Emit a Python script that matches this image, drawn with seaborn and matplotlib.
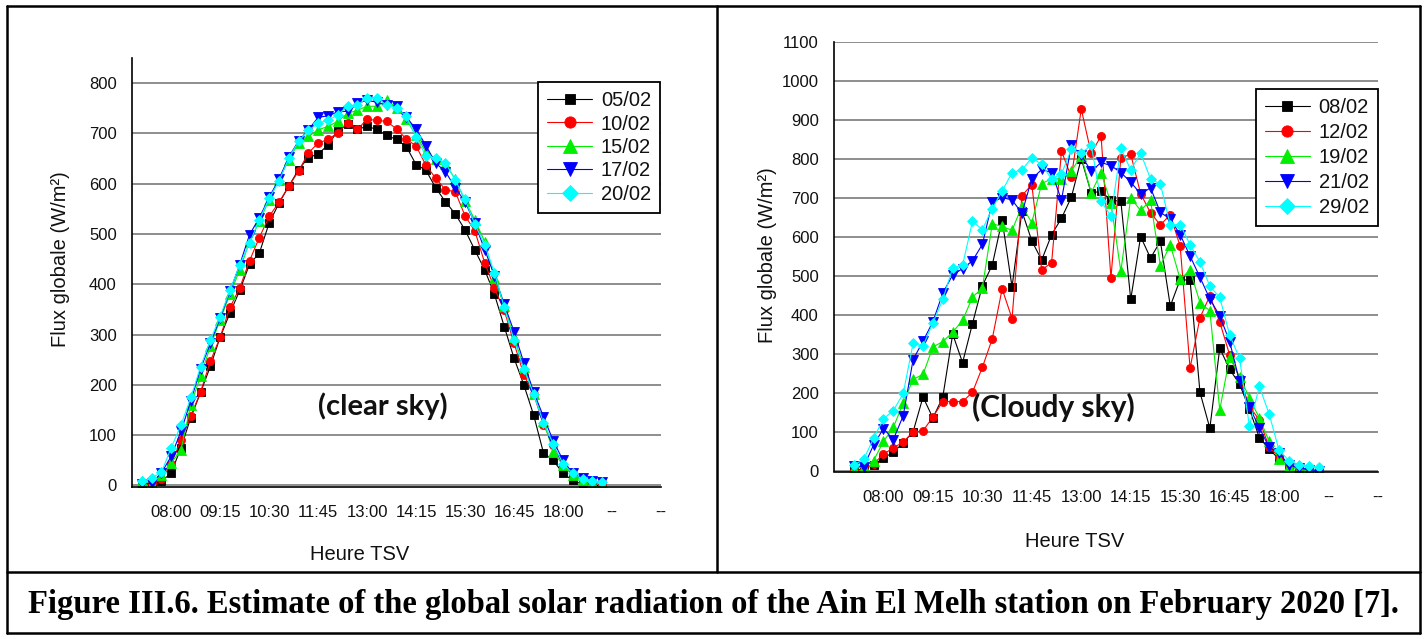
import numpy as np
import pandas as pd
import matplotlib
matplotlib.use("Agg")
import matplotlib.pyplot as plt
import seaborn as sns
from matplotlib.lines import Line2D
from matplotlib.ticker import MultipleLocator, FixedLocator

# ---------------- data ----------------
times = pd.date_range("2020-02-01 07:15", "2020-02-01 19:00", freq="15min").strftime("%H:%M").tolist()

clear_labels = ["05/02", "10/02", "15/02", "17/02", "20/02"]
clear_0502 = [2, 4, 8, 25, 75, 135, 185, 237, 295, 343, 388, 440, 462, 522, 561, 595, 628, 652, 659, 677,
              705, 718, 708, 714, 708, 696, 688, 674, 638, 627, 592, 564, 540, 508, 468, 429, 380, 316, 253, 200,
              140, 65, 50, 24, 10, 2, 0, 0]
clear_1002 = [2, 5, 12, 43, 90, 138, 186, 247, 295, 354, 393, 447, 493, 535, 563, 595, 625, 661, 681, 688,
              701, 721, 708, 728, 726, 724, 709, 689, 675, 637, 611, 588, 584, 536, 506, 443, 392, 348, 283, 220,
              182, 121, 81, 40, 23, 11, 6, 4]
clear_1502 = [8, 3, 20, 45, 70, 161, 217, 277, 330, 380, 429, 485, 525, 568, 608, 648, 681, 694, 707, 714,
              724, 740, 746, 754, 754, 766, 751, 728, 696, 663, 649, 639, 609, 566, 528, 485, 413, 356, 295, 235,
              182, 129, 67, 40, 20, 10, 6, 4]
clear_1702 = [3, 5, 25, 58, 108, 168, 232, 283, 333, 386, 439, 499, 532, 573, 609, 653, 685, 707, 732, 735,
              743, 744, 760, 766, 762, 756, 754, 732, 709, 676, 641, 624, 592, 564, 521, 469, 417, 360, 306, 244,
              186, 137, 89, 50, 24, 14, 8, 6]
clear_2002 = [8, 15, 26, 75, 120, 175, 236, 289, 336, 388, 439, 482, 528, 571, 605, 651, 684, 706, 720, 726,
              737, 754, 756, 771, 771, 756, 751, 734, 693, 655, 651, 642, 607, 569, 519, 479, 423, 354, 289, 232,
              182, 125, 83, 43, 24, 12, 8, 6]

cloudy_labels = ["08/02", "12/02", "19/02", "21/02", "29/02"]
cloudy_0802 = [2, 4, 15, 33, 47, 72, 100, 189, 135, 189, 350, 277, 377, 474, 527, 643, 471, 665, 589, 540,
               605, 647, 701, 800, 712, 716, 693, 691, 439, 600, 545, 588, 422, 490, 488, 201, 109, 314, 260, 222,
               158, 85, 55, 30, 15, 5, 2, 0]
cloudy_1202 = [0, 3, 18, 42, 59, 73, 99, 102, 138, 177, 177, 177, 201, 265, 338, 466, 390, 705, 733, 515,
               533, 819, 752, 927, 813, 858, 494, 802, 811, 710, 661, 630, 656, 575, 263, 392, 448, 381, 297, 237,
               165, 130, 60, 35, 15, 5, 2, 0]
cloudy_1902 = [5, 10, 26, 75, 111, 174, 234, 247, 317, 331, 355, 385, 445, 468, 633, 626, 616, 678, 636, 736,
               748, 748, 769, 806, 712, 764, 686, 511, 699, 667, 693, 525, 579, 491, 514, 431, 410, 156, 291, 241,
               187, 135, 75, 31, 11, 3, 0, 0]
cloudy_2102 = [12, 10, 66, 108, 80, 141, 285, 332, 382, 455, 502, 518, 538, 580, 688, 700, 694, 660, 748, 772,
               764, 694, 835, 809, 767, 790, 782, 764, 740, 709, 725, 662, 645, 605, 550, 496, 440, 397, 331, 229,
               164, 110, 60, 45, 15, 8, 3, 0]
cloudy_2902 = [15, 29, 83, 133, 154, 198, 327, 320, 379, 439, 520, 527, 639, 618, 672, 717, 764, 771, 802, 785,
               748, 761, 824, 813, 835, 691, 652, 826, 771, 814, 748, 735, 629, 631, 579, 535, 473, 444, 348, 288,
               114, 216, 145, 52, 26, 15, 12, 10]

xtick_labels = ["08:00", "09:15", "10:30", "11:45", "13:00", "14:15", "15:30", "16:45", "18:00", "--", "--"]

# ---------------- style ----------------
sns.set_style("white")
plt.rcParams["font.family"] = ["Liberation Sans", "DejaVu Sans"]

colors = ["#000000", "#ff0000", "#00ee00", "#0000ff", "#00ffff"]
markers = ["s", "o", "^", "v", "D"]
msizes = [5.4, 5.8, 6.8, 6.8, 5.6]


def to_min(t):
    h, m = t.split(":")
    return int(h) * 60 + int(m)


def long_df(labels, series):
    rows = []
    for lab, vals in zip(labels, series):
        for t, v in zip(times, vals):
            rows.append({"date": lab, "minutes": to_min(t), "flux": v})
    return pd.DataFrame(rows)


fig = plt.figure(figsize=(14.26, 6.39), dpi=100)
W, H = 1426.0, 639.0


def axes_px(x0, x1, ytop, ybot):
    return fig.add_axes([x0 / W, 1 - ybot / H, (x1 - x0) / W, (ybot - ytop) / H])


ax1 = axes_px(132, 661, 58, 487)
ax2 = axes_px(834, 1378, 41.5, 471.5)

df1 = long_df(clear_labels, [clear_0502, clear_1002, clear_1502, clear_1702, clear_2002])
df2 = long_df(cloudy_labels, [cloudy_0802, cloudy_1202, cloudy_1902, cloudy_2102, cloudy_2902])


def draw(ax, df, labels):
    for lab, c, mk, ms in zip(labels, colors, markers, msizes):
        sub = df[df["date"] == lab]
        sns.lineplot(data=sub, x="minutes", y="flux", ax=ax, color=c, marker=mk, markersize=ms,
                     markeredgecolor=c, markeredgewidth=0.6, linewidth=0.8, label=lab,
                     estimator=None, sort=False)


draw(ax1, df1, clear_labels)
draw(ax2, df2, cloudy_labels)


def style_axes(ax, xmin, ymin, ymax, ymajor_max, major_start):
    ax.set_xlim(xmin, 1230)
    ax.set_ylim(ymin, ymax)
    majors = list(range(major_start, 1231, 75))
    labels = [""] * len(majors)
    for i, m in enumerate(majors):
        if m >= 480:
            labels[i] = xtick_labels[(m - 480) // 75]
    ax.xaxis.set_major_locator(FixedLocator(majors))
    ax.set_xticklabels(labels)
    ax.xaxis.set_minor_locator(FixedLocator([m + 37.5 for m in range(405, 1230, 75) if m + 37.5 > xmin]))
    ax.yaxis.set_major_locator(FixedLocator(list(range(0, ymajor_max + 1, 100))))
    ax.yaxis.set_minor_locator(MultipleLocator(50))
    ax.tick_params(axis="both", which="major", direction="out", length=6, width=1.1, color="black",
                   labelsize=12, pad=5, labelcolor="#111111")
    ax.tick_params(axis="both", which="minor", direction="out", length=3.5, width=1.0, color="black")
    ax.tick_params(axis="x", which="major", pad=7)
    ax.yaxis.grid(True, which="major", color="#7a7a7a", linewidth=1.2)
    ax.xaxis.grid(False)
    ax.set_axisbelow(True)
    for s in ["top", "right"]:
        ax.spines[s].set_visible(False)
    for s in ["left", "bottom"]:
        ax.spines[s].set_color("black")
        ax.spines[s].set_linewidth(1.2)
    ax.set_xlabel("Heure TSV", fontsize=14.5, color="#111111")
    ax.set_ylabel("Flux globale (W/m²)", fontsize=14.5, color="#111111")


style_axes(ax1, 420, -3, 850, 800, 480)
style_axes(ax2, 405, -2, 1100, 1100, 405)

ax1.xaxis.set_label_coords(0.431, -0.135)
ax1.yaxis.set_label_coords(-0.118, 0.531)
ax2.xaxis.set_label_coords(0.443, -0.141)
ax2.yaxis.set_label_coords(-0.105, 0.503)


def legend(ax, anchor, spacing):
    leg = ax.legend(loc="upper right", bbox_to_anchor=anchor, frameon=True, fancybox=False,
                    edgecolor="black", framealpha=1, fontsize=14.5, handlelength=2.2,
                    handletextpad=0.45, borderpad=0.45, labelspacing=spacing, markerscale=1.4,
                    borderaxespad=0)
    leg.get_frame().set_linewidth(1.3)
    for t in leg.get_texts():
        t.set_color("#111111")


legend(ax1, (0.998, 0.944), 0.22)
legend(ax2, (1.0, 0.89), 0.3)

ax1.text(0.4745, 0.189, "(clear sky)", transform=ax1.transAxes, ha="center", va="center",
         fontsize=21, fontweight="bold", family=["Lato", "DejaVu Sans"], color="#111111")
ax2.text(0.4026, 0.148, "(Cloudy sky)", transform=ax2.transAxes, ha="center", va="center",
         fontsize=21.5, fontweight="bold", family=["Lato", "DejaVu Sans"], color="#111111")

# frame lines of the figure
def fline(x0, y0, x1, y1, lw=1.8):
    fig.add_artist(Line2D([x0 / W, x1 / W], [1 - y0 / H, 1 - y1 / H], transform=fig.transFigure,
                          color="black", linewidth=lw))


fline(7, 6, 1420, 6)
fline(7, 633, 1420, 633)
fline(7, 6, 7, 633)
fline(1420, 6, 1420, 633)
fline(7, 572, 1420, 572)
fline(717, 6, 717, 572)

fig.text(28 / W, 1 - 604 / H,
         "Figure III.6. Estimate of the global solar radiation of the Ain El Melh station on February 2020 [7].",
         ha="left", va="center", fontsize=23.5, fontweight="bold", family=["Liberation Serif", "DejaVu Serif"],
         color="black")

fig.savefig("out.png", dpi=100)
